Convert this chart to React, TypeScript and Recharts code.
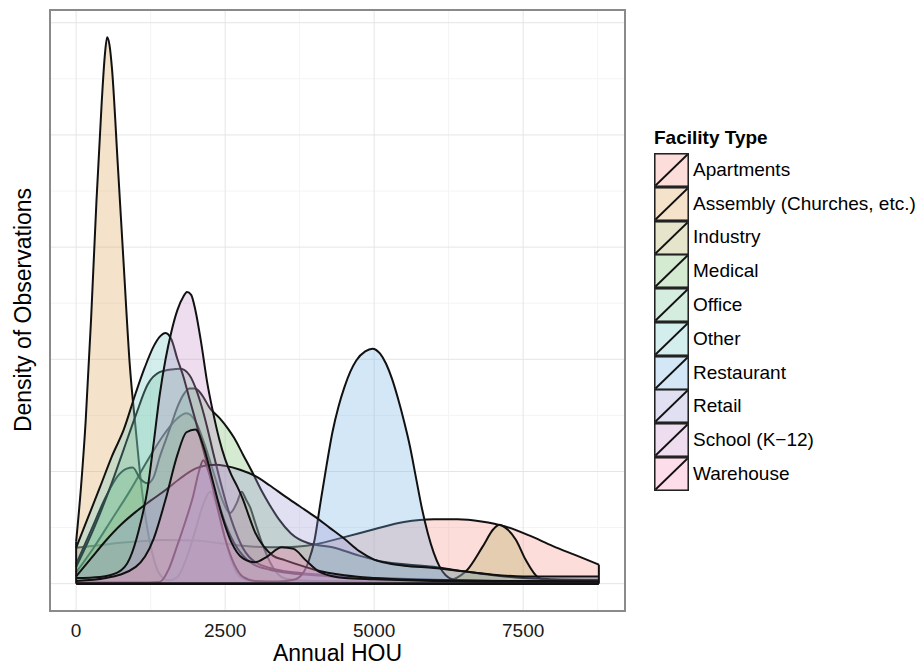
import { ComposedChart, Area, XAxis, YAxis, CartesianGrid, ReferenceLine } from 'recharts'

const font = '"Liberation Sans", Arial, Helvetica, sans-serif'

const facilityTypes = [
  'Apartments',
  'Assembly (Churches, etc.)',
  'Industry',
  'Medical',
  'Office',
  'Other',
  'Restaurant',
  'Retail',
  'School (K−12)',
  'Warehouse',
]
const seriesKeys = [
  'apartments',
  'assembly',
  'industry',
  'medical',
  'office',
  'other',
  'restaurant',
  'retail',
  'school',
  'warehouse',
]
const fillColors = [
  '#F58E80',
  '#D9A350',
  '#ADAA52',
  '#72BA66',
  '#70C296',
  '#70C8C4',
  '#6FB0E0',
  '#9C99D4',
  '#C48FCB',
  '#F78FB8',
]

const xTicks = [0, 2500, 5000, 7500]
const xMinor = [1250, 3750, 6250, 8750]
const yMajor = [0, 2, 4, 6, 8, 10]
const yMinor = [1, 3, 5, 7, 9]

// [annual HOU, density] (density axis is unlabelled)
const apartments: [number, number][] = [
  [0, 0.64], [500, 0.7], [1000, 0.75], [1500, 0.78], [2000, 0.77], [2500, 0.71],
  [3000, 0.66], [3500, 0.65], [4000, 0.7], [4500, 0.83], [5000, 0.97], [5500, 1.1],
  [6000, 1.15], [6400, 1.15], [6800, 1.11], [7200, 1.02], [7600, 0.86], [8000, 0.67],
  [8400, 0.5], [8770, 0.34],
]
const assembly: [number, number][] = [
  [0, 0.75], [80, 1.7], [160, 2.9], [250, 4.7], [340, 6.8], [430, 8.6], [480, 9.4],
  [520, 9.74], [560, 9.6], [600, 9.2], [700, 7.45], [800, 5.65], [900, 3.9], [1000, 2.75],
  [1100, 1.7], [1200, 0.95], [1300, 0.45], [1400, 0.17], [1550, 0.06], [1700, 0.12],
  [1850, 0.45], [2000, 0.95], [2120, 1.38], [2250, 1.64], [2380, 1.3], [2500, 0.8],
  [2600, 0.42], [2750, 0.12], [3000, 0.04], [4000, 0.02], [6000, 0.02], [8770, 0.02],
]
const industry: [number, number][] = [
  [0, 0.2], [300, 0.65], [600, 1.15], [900, 1.65], [1200, 2.2], [1500, 2.7], [1700, 2.95],
  [1850, 3.04], [2000, 2.9], [2150, 2.5], [2300, 2.0], [2450, 1.5], [2580, 1.26],
  [2700, 1.45], [2775, 1.64], [2850, 1.5], [2920, 1.36], [3000, 1.1], [3140, 0.66],
  [3360, 0.2], [3550, 0.08], [4000, 0.05], [5000, 0.04], [6200, 0.05], [6540, 0.22],
  [6820, 0.66], [7000, 0.97], [7100, 1.05], [7200, 1.0], [7380, 0.78], [7540, 0.43],
  [7765, 0.1], [8000, 0.04], [8770, 0.03],
]
const medical: [number, number][] = [
  [0, 0.35], [250, 0.95], [500, 1.55], [700, 1.92], [850, 2.05], [950, 2.07], [1075, 1.87],
  [1200, 1.79], [1300, 1.9], [1400, 2.25], [1500, 2.55], [1600, 2.85], [1700, 3.15],
  [1800, 3.37], [1900, 3.48], [2000, 3.48], [2100, 3.38], [2250, 3.12], [2400, 2.96],
  [2550, 2.76], [2650, 2.6], [2800, 2.3], [2950, 2.0], [3100, 1.68], [3250, 1.4],
  [3400, 1.15], [3600, 0.9], [3900, 0.72], [4300, 0.65], [4750, 0.5], [5100, 0.4],
  [6000, 0.3], [6500, 0.22], [7000, 0.15], [7500, 0.1], [8000, 0.08], [8770, 0.07],
]
const office: [number, number][] = [
  [0, 0.3], [200, 0.75], [400, 1.25], [600, 1.8], [800, 2.4], [1000, 3.0], [1200, 3.55],
  [1400, 3.77], [1600, 3.82], [1750, 3.83], [1900, 3.72], [2000, 3.5], [2100, 3.18],
  [2200, 2.78], [2300, 2.33], [2400, 1.9], [2500, 1.5], [2600, 1.15], [2700, 0.86],
  [2800, 0.63], [2900, 0.48], [3000, 0.39], [3250, 0.28], [3500, 0.22], [4000, 0.17],
  [4500, 0.12], [5000, 0.08], [6000, 0.05], [7000, 0.04], [8770, 0.03],
]
const other: [number, number][] = [
  [0, 0.64], [200, 1.18], [400, 1.72], [600, 2.27], [800, 2.75], [1000, 3.4], [1150, 3.85],
  [1300, 4.23], [1400, 4.4], [1500, 4.47], [1600, 4.35], [1700, 4.0], [1800, 3.69],
  [1900, 3.3], [2000, 2.92], [2100, 2.52], [2200, 2.12], [2300, 1.73], [2400, 1.4],
  [2500, 1.08], [2600, 0.83], [2700, 0.64], [2800, 0.5], [2900, 0.4], [3000, 0.33],
  [3250, 0.25], [3500, 0.2], [4000, 0.15], [5000, 0.1], [6000, 0.07], [7000, 0.05],
  [8770, 0.04],
]
const restaurant: [number, number][] = [
  [0, 0.02], [1000, 0.02], [1400, 0.03], [1550, 0.25], [1690, 0.66], [1830, 1.1],
  [1960, 1.55], [2060, 2.0], [2133, 2.2], [2220, 2.0], [2350, 1.45], [2500, 0.8],
  [2650, 0.35], [2800, 0.12], [3000, 0.05], [3400, 0.04], [3650, 0.07], [3800, 0.18],
  [3900, 0.4], [4000, 0.78], [4100, 1.45], [4200, 2.1], [4300, 2.7], [4400, 3.15],
  [4500, 3.5], [4600, 3.78], [4700, 3.98], [4850, 4.14], [4970, 4.19], [5100, 4.1],
  [5200, 3.92], [5300, 3.65], [5400, 3.3], [5500, 2.9], [5600, 2.45], [5700, 1.9],
  [5800, 1.35], [5900, 0.9], [6000, 0.55], [6100, 0.3], [6200, 0.15], [6400, 0.05],
  [6700, 0.03], [8770, 0.02],
]
const retail: [number, number][] = [
  [0, 0.13], [250, 0.45], [500, 0.77], [750, 1.05], [1000, 1.28], [1250, 1.48],
  [1500, 1.67], [1750, 1.88], [2000, 2.05], [2200, 2.11], [2350, 2.12], [2500, 2.1],
  [2750, 2.03], [3000, 1.92], [3250, 1.75], [3500, 1.56], [3750, 1.38], [4000, 1.2],
  [4250, 1.0], [4500, 0.8], [4750, 0.58], [5000, 0.43], [5250, 0.36], [5500, 0.32],
  [6000, 0.28], [6500, 0.22], [7000, 0.16], [7500, 0.13], [8000, 0.13], [8770, 0.13],
]
const school: [number, number][] = [
  [0, 0.1], [400, 0.12], [700, 0.2], [900, 0.45], [1050, 0.95], [1200, 1.7], [1300, 2.5],
  [1400, 3.35], [1500, 4.0], [1600, 4.5], [1700, 4.88], [1800, 5.12], [1860, 5.2],
  [1930, 5.15], [2000, 4.88], [2100, 4.28], [2200, 3.58], [2300, 3.04], [2400, 2.58],
  [2500, 2.22], [2600, 1.95], [2700, 1.74], [2800, 1.5], [2900, 1.2], [3000, 0.92],
  [3150, 0.66], [3300, 0.5], [3500, 0.42], [3750, 0.33], [4000, 0.25], [4500, 0.15],
  [5000, 0.1], [6000, 0.06], [8770, 0.04],
]
const warehouse: [number, number][] = [
  [0, 0.05], [500, 0.1], [1000, 0.3], [1300, 0.8], [1500, 1.5], [1700, 2.3], [1850, 2.7],
  [2000, 2.75], [2150, 2.4], [2300, 1.8], [2450, 1.2], [2600, 0.75], [2800, 0.45],
  [3000, 0.38], [3200, 0.48], [3450, 0.65], [3650, 0.62], [3850, 0.42], [4100, 0.2],
  [4500, 0.1], [5000, 0.08], [6000, 0.05], [7000, 0.04], [8770, 0.04],
]

const allSeries = [apartments, assembly, industry, medical, office, other, restaurant, retail, school, warehouse]

// one row per x that any group was sampled at; gaps are bridged with connectNulls
const xs = Array.from(new Set(allSeries.flatMap((s) => s.map((p) => p[0])))).sort((a, b) => a - b)
const table = xs.map((u) => {
  const row: Record<string, number | null> = { u }
  allSeries.forEach((s, i) => {
    const hit = s.find((p) => p[0] === u)
    row[seriesKeys[i]] = hit ? hit[1] : null
  })
  return row
})

const xMin = xs[0]
const xMax = xs[xs.length - 1]
const leftTop = Math.max(...allSeries.map((s) => s[0][1]))
const rightTop = Math.max(...allSeries.map((s) => s[s.length - 1][1]))
const yMax = Math.max(...allSeries.flatMap((s) => s.map((p) => p[1])))
const xPad = (xMax - xMin) * 0.05
const yPad = yMax * 0.05

function LegendKey({ color }: { color: string }) {
  return (
    <svg width={35} height={34} style={{ display: 'block' }}>
      <rect x={0.75} y={0.75} width={33.5} height={32.5} fill="#fff" />
      <rect x={0.75} y={0.75} width={33.5} height={32.5} fill={color} fillOpacity={0.3} stroke="#222" strokeWidth={1.6} />
      <line x1={1.5} y1={32.5} x2={33.5} y2={1.5} stroke="#111" strokeWidth={1.8} />
    </svg>
  )
}

export default function App() {
  return (
    <div style={{ position: 'relative', width: 923, height: 666, fontFamily: font, background: '#fff', overflow: 'hidden' }}>
      <style>{`body { margin: 0; }`}</style>
      <ComposedChart width={923} height={666} data={table} margin={{ top: 10, right: 298, bottom: 0, left: 50 }}>
        <CartesianGrid horizontalValues={yMinor} verticalValues={xMinor} stroke="#f4f4f4" strokeWidth={1} />
        <CartesianGrid horizontalValues={yMajor} verticalValues={xTicks} stroke="#e5e5e5" strokeWidth={1} />
        <XAxis
          dataKey="u"
          type="number"
          domain={[xMin - xPad, xMax + xPad]}
          allowDataOverflow
          ticks={xTicks}
          tickLine={false}
          axisLine={false}
          tickMargin={7}
          height={55}
          tick={{ fontSize: 19, fill: '#1a1a1a', fontFamily: font }}
        />
        <YAxis type="number" hide domain={[-yPad, yMax + yPad]} allowDataOverflow ticks={yMajor} />
        {seriesKeys.map((k, i) => (
          <Area
            key={k}
            type="monotone"
            dataKey={k}
            name={facilityTypes[i]}
            baseValue={0}
            stroke="#111"
            strokeWidth={2}
            fill={fillColors[i]}
            fillOpacity={0.3}
            connectNulls
            dot={false}
            activeDot={false}
            isAnimationActive={false}
          />
        ))}
        <ReferenceLine segment={[{ x: xMin, y: 0 }, { x: xMax, y: 0 }]} stroke="#111" strokeWidth={2.8} />
        <ReferenceLine segment={[{ x: xMin, y: 0 }, { x: xMin, y: leftTop }]} stroke="#111" strokeWidth={2} />
        <ReferenceLine segment={[{ x: xMax, y: 0 }, { x: xMax, y: rightTop }]} stroke="#111" strokeWidth={2} />
      </ComposedChart>

      {/* panel border */}
      <div
        style={{
          position: 'absolute',
          left: 49,
          top: 9,
          width: 577,
          height: 603,
          border: '2px solid #8a8a8a',
          boxSizing: 'border-box',
          pointerEvents: 'none',
        }}
      />

      <div
        style={{
          position: 'absolute',
          left: 50,
          width: 575,
          top: 643,
          textAlign: 'center',
          fontSize: 23,
          lineHeight: '20px',
          color: '#000',
        }}
      >
        Annual HOU
      </div>
      <div
        style={{
          position: 'absolute',
          left: 23,
          top: 310,
          transform: 'translate(-50%, -50%) rotate(-90deg)',
          whiteSpace: 'nowrap',
          fontSize: 23,
          lineHeight: '23px',
          color: '#000',
        }}
      >
        Density of Observations
      </div>

      <div style={{ position: 'absolute', left: 654, top: 128 }}>
        <div style={{ fontSize: 19, fontWeight: 'bold', lineHeight: '20px', marginBottom: 5 }}>Facility Type</div>
        {facilityTypes.map((t, i) => (
          <div key={t} style={{ display: 'flex', alignItems: 'center', height: 33.8 }}>
            <LegendKey color={fillColors[i]} />
            <span style={{ marginLeft: 4, fontSize: 19, color: '#000', whiteSpace: 'nowrap' }}>{t}</span>
          </div>
        ))}
      </div>
    </div>
  )
}
